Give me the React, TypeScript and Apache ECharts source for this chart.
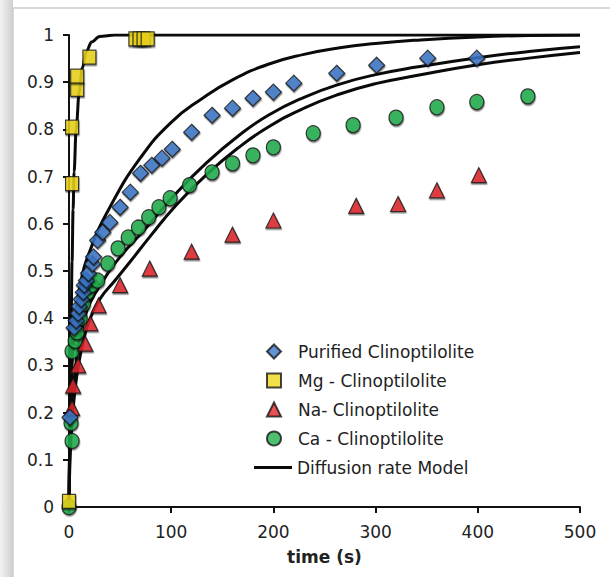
import React, { useEffect, useRef } from "react";
import * as echarts from "echarts";

// ---- Data ----
const purified: number[][] = [
  [1, 0.19], [5, 0.38], [7, 0.395], [9, 0.41], [10, 0.425], [12, 0.44], [14, 0.455],
  [15, 0.47], [17, 0.48], [19, 0.495], [23, 0.515], [24, 0.53], [28, 0.565], [33, 0.582],
  [40, 0.603], [50, 0.635], [60, 0.667], [70, 0.707], [81, 0.724], [91, 0.739],
  [101, 0.758], [120, 0.794], [140, 0.83], [160, 0.845], [180, 0.866], [200, 0.879],
  [220, 0.898], [262, 0.919], [301, 0.936], [351, 0.951], [399, 0.951],
];
const mg: number[][] = [
  [0, 0.012], [3, 0.685], [3, 0.805], [8, 0.885], [8, 0.913], [20, 0.953],
  [65, 0.992], [69, 0.992], [73, 0.992], [77, 0.992],
];
const na: number[][] = [
  [3, 0.21], [4, 0.257], [9, 0.3], [16, 0.346], [21, 0.389], [29, 0.427], [50, 0.47],
  [79, 0.505], [120, 0.541], [160, 0.577], [200, 0.607], [281, 0.638], [322, 0.642],
  [360, 0.671], [401, 0.703],
];
const ca: number[][] = [
  [0, 0.0], [3, 0.14], [2, 0.178], [3, 0.33], [6, 0.352], [8, 0.37], [11, 0.4], [14, 0.43],
  [18, 0.455], [22, 0.47], [28, 0.48], [38, 0.516], [48, 0.548], [58, 0.571], [68, 0.592],
  [78, 0.614], [88, 0.635], [99, 0.654], [118, 0.682], [140, 0.709], [160, 0.728],
  [180, 0.745], [200, 0.762], [239, 0.792], [278, 0.809], [320, 0.825], [360, 0.847],
  [399, 0.858], [449, 0.87],
];
const modelMg: number[][] = [
  [0, 0], [1, 0.2], [2, 0.38], [3, 0.52], [4, 0.63], [5, 0.71], [7, 0.8], [10, 0.88],
  [13, 0.93], [17, 0.965], [22, 0.985], [30, 0.997], [45, 1], [500, 1],
];
const modelPurified: number[][] = [
  [0, 0], [1, 0.17], [3, 0.3], [6, 0.39], [11, 0.47], [20, 0.54], [40, 0.635], [70, 0.74],
  [100, 0.815], [130, 0.865], [160, 0.905], [195, 0.938], [230, 0.959], [265, 0.973],
  [300, 0.982], [340, 0.989], [400, 0.996], [450, 0.999], [500, 1],
];
const modelCa: number[][] = [
  [0, 0], [1, 0.13], [3, 0.21], [6, 0.29], [10, 0.35], [15, 0.395], [20, 0.43], [35, 0.485],
  [50, 0.53], [75, 0.59], [105, 0.665], [135, 0.73], [165, 0.785], [195, 0.83],
  [230, 0.868], [265, 0.896], [300, 0.916], [340, 0.932], [400, 0.952], [450, 0.965],
  [500, 0.975],
];
const modelNa: number[][] = [
  [0, 0], [1, 0.1], [3, 0.18], [6, 0.25], [10, 0.31], [15, 0.36], [20, 0.395], [30, 0.44],
  [45, 0.48], [60, 0.52], [80, 0.575], [105, 0.64], [135, 0.705], [165, 0.76],
  [195, 0.805], [230, 0.845], [265, 0.875], [300, 0.897], [340, 0.914], [400, 0.937],
  [450, 0.951], [500, 0.963],
];

const seriesNames = [
  "Purified Clinoptilolite",
  "Mg - Clinoptilolite",
  "Na- Clinoptilolite",
  "Ca - Clinoptilolite",
  "Diffusion rate Model",
];

const FONT = "'DejaVu Sans', Verdana, sans-serif";

export default function App() {
  const ref = useRef<HTMLDivElement>(null);
  useEffect(() => {
    if (!ref.current) return;
    const chart = echarts.init(ref.current, undefined, { renderer: "svg" });
    const markerStyle = (color: string) => ({
      color,
      borderColor: "#151515",
      borderWidth: 1.2,
      shadowColor: "rgba(0,0,0,0.55)",
      shadowOffsetX: 0.5,
      shadowOffsetY: 1.5,
      shadowBlur: 1,
    });
    const lineSeries = (data: number[][], monotone: boolean) => ({
      type: "line",
      name: seriesNames[4],
      data,
      smooth: monotone ? 0.35 : 0.5,
      smoothMonotone: monotone ? "x" : undefined,
      showSymbol: false,
      symbol: "none",
      lineStyle: { color: "#0a0a0a", width: 3 },
      itemStyle: { color: "#0a0a0a" },
      z: 2,
    });
    const legendText = { fontFamily: FONT, fontSize: 17, color: "#222" };
    chart.setOption({
      animation: false,
      backgroundColor: "#ffffff",
      graphic: [
        {
          type: "rect",
          shape: { x: 0, y: 0, width: 13, height: 577 },
          style: {
            fill: new echarts.graphic.LinearGradient(0, 0, 1, 0, [
              { offset: 0, color: "#f2f2f2" },
              { offset: 1, color: "#cfcfcf" },
            ]),
          },
          z: -10,
          silent: true,
        },
        {
          type: "rect",
          shape: { x: 13, y: 8, width: 620, height: 600 },
          style: { fill: "#ffffff", stroke: "#cccccc", lineWidth: 1.5 },
          z: -10,
          silent: true,
        },
      ],
      grid: { left: 69, right: 30, top: 35, bottom: 70, containLabel: false },
      legend: [
        {
          orient: "vertical",
          left: 266,
          top: 343,
          padding: 0,
          itemWidth: 14,
          itemHeight: 14,
          itemGap: 12,
          textStyle: { ...legendText, padding: [0, 0, 0, 12] },
          data: [
            { name: seriesNames[0], icon: "diamond" },
            { name: seriesNames[1], icon: "rect" },
            { name: seriesNames[2], icon: "triangle" },
            { name: seriesNames[3], icon: "circle" },
          ],
        },
        {
          orient: "vertical",
          left: 254,
          top: 459,
          padding: 0,
          itemWidth: 38,
          itemHeight: 3,
          textStyle: legendText,
          data: [{ name: seriesNames[4], icon: "rect" }],
        },
      ],
      xAxis: {
        type: "value",
        min: 0,
        max: 500,
        interval: 100,
        name: "time (s)",
        nameLocation: "middle",
        nameGap: 41,
        nameTextStyle: { fontFamily: FONT, fontSize: 17, fontWeight: "bold", color: "#222" },
        axisLine: { show: true, onZero: false, lineStyle: { color: "#111", width: 2 } },
        axisTick: { show: true, inside: false, length: 6, lineStyle: { color: "#111", width: 2 } },
        axisLabel: { fontFamily: FONT, fontSize: 17, color: "#222", margin: 16 },
        splitLine: { show: false },
      },
      yAxis: {
        type: "value",
        min: 0,
        max: 1,
        interval: 0.1,
        axisLine: { show: true, onZero: false, lineStyle: { color: "#111", width: 2 } },
        axisTick: { show: true, inside: false, length: 6, lineStyle: { color: "#111", width: 2 } },
        axisLabel: { fontFamily: FONT, fontSize: 17, color: "#222", margin: 15 },
        splitLine: { show: false },
      },
      series: [
        lineSeries(modelMg, true),
        lineSeries(modelPurified, false),
        lineSeries(modelCa, false),
        lineSeries(modelNa, false),
        {
          type: "scatter",
          name: seriesNames[3],
          data: ca,
          symbol: "circle",
          symbolSize: [14, 15],
          itemStyle: markerStyle("#22b04c"),
          z: 3,
        },
        {
          type: "scatter",
          name: seriesNames[2],
          data: na,
          symbol: "triangle",
          symbolSize: [15, 15],
          itemStyle: markerStyle("#e3262b"),
          z: 3,
        },
        {
          type: "scatter",
          name: seriesNames[0],
          data: purified,
          symbol: "diamond",
          symbolSize: [16, 16],
          itemStyle: markerStyle("#3b78c9"),
          z: 4,
        },
        {
          type: "scatter",
          name: seriesNames[1],
          data: mg,
          symbol: "rect",
          symbolSize: [13, 14],
          itemStyle: markerStyle("#efd81c"),
          z: 4,
        },
      ],
    });
    return () => chart.dispose();
  }, []);
  return (
    <div
      ref={ref}
      style={{ position: "fixed", left: 0, top: 0, width: 610, height: 577 }}
    />
  );
}
